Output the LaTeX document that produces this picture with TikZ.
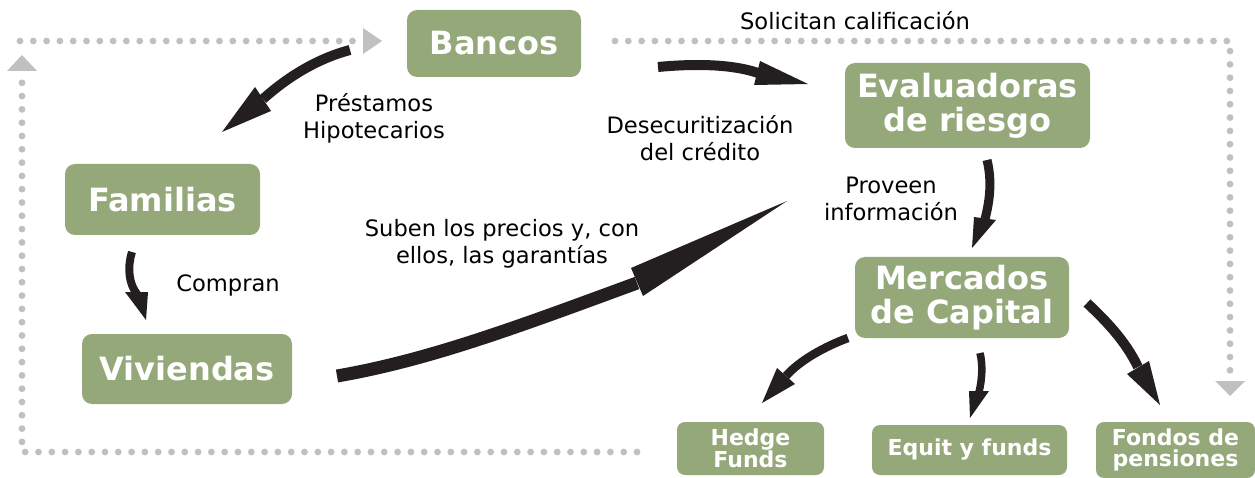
\documentclass[tikz,border=0pt]{standalone}
\usepackage{fontspec}
\setmainfont{DejaVu Sans}
\definecolor{boxg}{RGB}{149,168,122}
\definecolor{dotg}{RGB}{192,192,192}
\definecolor{arrk}{RGB}{35,31,32}
\begin{document}
\begin{tikzpicture}[x=1pt,y=-1pt,
  bigbox/.style={fill=boxg, rounded corners=10pt, text=white, inner sep=0pt, align=center,
    font=\bfseries\fontsize{32}{34}\selectfont},
  smallbox/.style={fill=boxg, rounded corners=8pt, text=white, inner sep=0pt, align=center,
    font=\bfseries\fontsize{22}{21}\selectfont},
  lbl/.style={inner sep=0pt, align=center, text=black, font=\fontsize{22.6}{27}\selectfont},
  dotline/.style={draw=dotg, line width=6.8pt, line cap=round, dash pattern=on 0pt off 13.3pt},
  dothead/.style={fill=dotg},
  abody/.style={draw=arrk, line width=#1, line cap=butt},
  ahead/.style={fill=arrk}]
\useasboundingbox (0,0) rectangle (1255,478);

% boxes
\node[bigbox, minimum width=174pt, minimum height=67pt] (bancos) at (494,43.5) {Bancos};
\node[bigbox, minimum width=245pt, minimum height=85pt] (eval) at (967.5,105.5) {Evaluadoras\\de riesgo};
\node[bigbox, minimum width=195pt, minimum height=71pt] (familias) at (162.5,199.5) {Familias};
\node[bigbox, minimum width=210pt, minimum height=70pt] (viviendas) at (187,369) {Viviendas};
\node[bigbox, minimum width=214pt, minimum height=81pt] (mercados) at (962,297.5) {Mercados\\de Capital};
\node[smallbox, minimum width=147pt, minimum height=53pt] (hedge) at (750.5,448.5) {Hedge\\Funds};
\node[smallbox, minimum width=195pt, minimum height=50pt] (equit) at (969.5,450) {Equit y funds};
\node[smallbox, minimum width=159pt, minimum height=56pt] (fondos) at (1175.5,450) {Fondos de\\pensiones};

% labels
\node[lbl] (lsol) at (855,21) {Solicitan calificación};
\node[lbl] (lpre) at (374,118) {Préstamos\\Hipotecarios};
\node[lbl] (ldes) at (700,138) {Desecuritización\\del crédito};
\node[lbl] (lcom) at (228,285) {Compran};
\node[lbl] (lsub) at (502,244) {Suben los precios y, con\\ellos, las garantías};
\node[lbl] (lpro) at (891,199) {Proveen\\información};

% dotted loop
\coordinate (d1) at (20,41);
\coordinate (d2) at (360,41);
\draw[dotline] (d1) -- (d2);
\fill[dothead] (363,28) -- (382,41) -- (363,54) -- cycle;
\coordinate (d3) at (637,452);
\coordinate (d4) at (22,452);
\coordinate (d5) at (22,77);
\draw[dotline] (d3) -- (d4) -- (d5);
\fill[dothead] (7,71) -- (22,55) -- (37,71) -- cycle;
\coordinate (d6) at (615,41);
\coordinate (d7) at (1230,41);
\coordinate (d8) at (1230,375);
\draw[dotline] (d6) -- (d7) -- (d8);
\fill[dothead] (1215,381) -- (1245,381) -- (1230,396) -- cycle;

% Bancos -> Familias
\coordinate (a1s) at (350,50);
\coordinate (a1b) at (263,99);
\draw[abody=10pt] (a1s) .. controls (312,60) and (282,82) .. (a1b);
\fill[ahead] (255,87) -- (222,132) -- (271,111) -- cycle;

% Bancos -> Evaluadoras
\coordinate (a2s) at (658,67);
\coordinate (a2b) at (758,73);
\draw[abody=10pt] (a2s) .. controls (700,63) and (735,65) .. (a2b);
\fill[ahead] (760,61) -- (808,84) -- (754,85) -- cycle;

% Familias -> Viviendas
\coordinate (a3s) at (132,252);
\coordinate (a3b) at (137,294);
\draw[abody=8pt] (a3s) .. controls (127,268) and (129,284) .. (a3b);
\fill[ahead] (125,292) -- (146,320) -- (148,292) -- cycle;

% Viviendas -> Evaluadoras
\coordinate (a4s) at (337,376);
\coordinate (a4b) at (637,283);
\draw[abody=13pt] (a4s) .. controls (430,360) and (520,326) .. (a4b);
\fill[ahead] (631,268) -- (787,201) -- (643,296) -- cycle;

% Evaluadoras -> Mercados
\coordinate (a5s) at (987,160);
\coordinate (a5b) at (985,219);
\draw[abody=9pt] (a5s) .. controls (992,180) and (990,200) .. (a5b);
\fill[ahead] (974,217) -- (972,248) -- (996,220) -- cycle;

% Mercados -> Hedge
\coordinate (a6s) at (848,338);
\coordinate (a6b) at (786,376);
\draw[abody=8.5pt] (a6s) .. controls (826,346) and (800,360) .. (a6b);
\fill[ahead] (777,368) -- (762,403) -- (795,384) -- cycle;

% Mercados -> Equit
\coordinate (a7s) at (980,353);
\coordinate (a7b) at (979,392);
\draw[abody=7.5pt] (a7s) .. controls (983,365) and (982,380) .. (a7b);
\fill[ahead] (969,391) -- (970,418) -- (989,391) -- cycle;

% Mercados -> Fondos
\coordinate (a8s) at (1087,303);
\coordinate (a8b) at (1138,367);
\draw[abody=10pt] (a8s) .. controls (1105,320) and (1125,340) .. (a8b);
\fill[ahead] (1127,374) -- (1160,405) -- (1149,361) -- cycle;
\end{tikzpicture}
\end{document}
